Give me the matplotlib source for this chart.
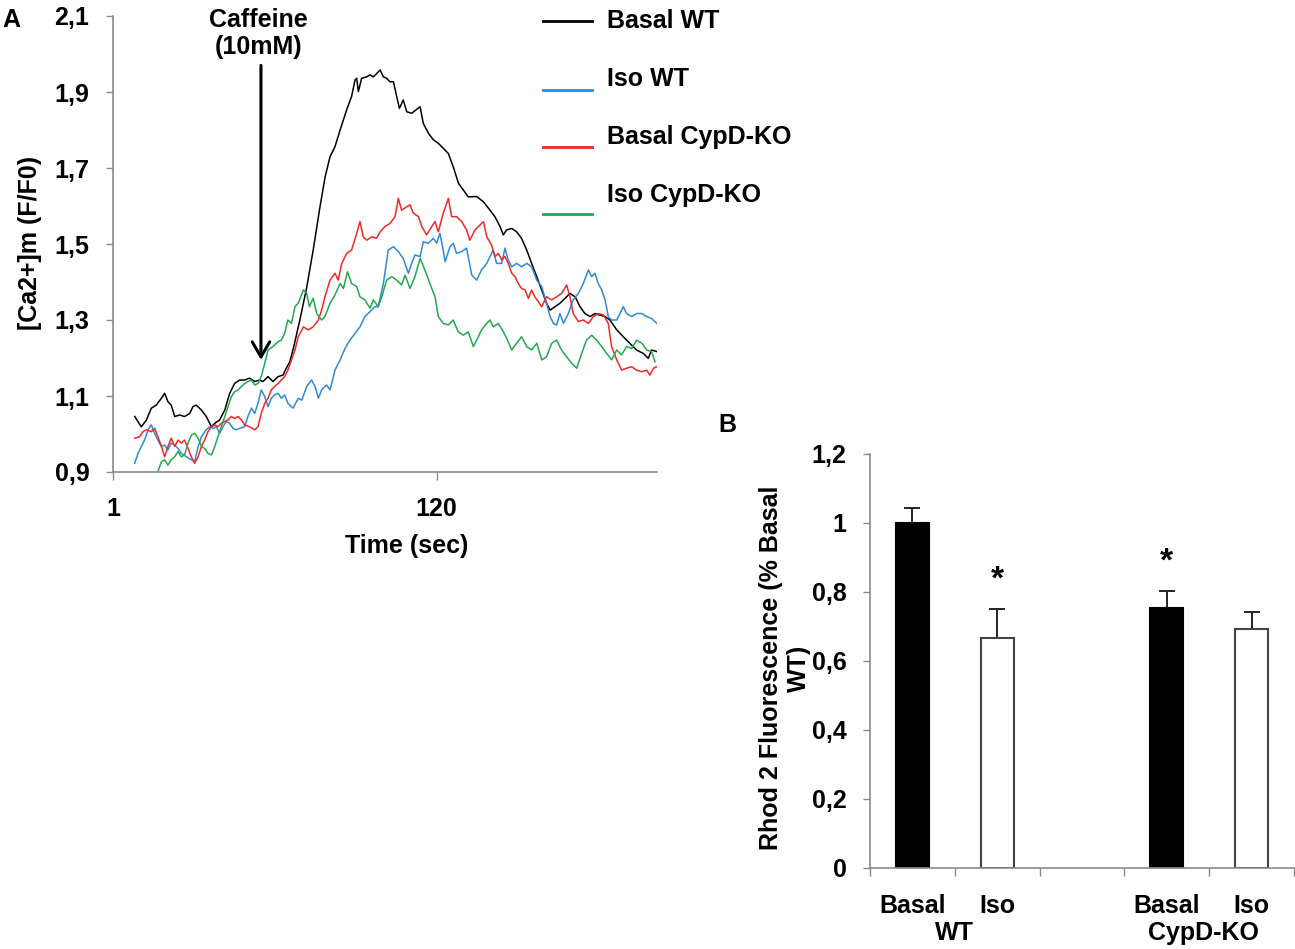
import matplotlib
matplotlib.use("Agg")
import matplotlib.pyplot as plt
import numpy as np
from matplotlib.lines import Line2D

plt.rcParams['font.family'] = ['Liberation Sans', 'DejaVu Sans']
plt.rcParams['font.weight'] = 'bold'
plt.rcParams['axes.labelweight'] = 'bold'
plt.rcParams['font.size'] = 18

# ---- panel A: mitochondrial Ca2+ traces (time in sec, F/F0) ----
basal_wt_t = [9.0, 11.4, 13.3, 15.1, 16.9, 18.8, 20.0, 21.2, 22.4, 23.7,
              25.5, 27.3, 29.2, 30.4, 31.6, 33.5, 35.3, 37.2, 38.4, 40.2,
              42.1, 43.9, 45.7, 47.6, 49.4, 51.2, 53.1, 54.9, 56.1, 58.0,
              59.8, 61.7, 63.5, 64.7, 66.0,
              67.3, 69.7, 72.2, 74.6, 77.1, 79.0, 80.8, 82.6, 84.5, 86.9,
              88.7, 90.0, 90.6, 91.2, 92.4, 94.3, 95.5, 96.7, 98.0, 99.2,
              100.4, 101.6, 102.8, 104.1, 105.3, 106.3, 107.7, 109.0, 110.8, 112.4,
              113.9, 115.1, 117.0, 118.8, 120.6, 122.4, 124.3, 126.1, 128.0, 129.8,
              131.6,
              134.7, 137.2, 139.6, 141.4, 143.3, 144.5, 145.7, 147.6, 149.4, 151.2,
              153.1, 154.9, 156.8, 158.6, 160.4, 161.7, 163.5, 165.3, 167.2, 169.0,
              170.9, 172.7, 174.5, 176.4, 178.2, 180.0, 181.9, 183.7, 186.2, 188.6,
              191.1, 193.5, 196.0, 197.8, 199.0, 200.9]
basal_wt = [1.046, 1.019, 1.037, 1.068, 1.076, 1.094, 1.107, 1.085, 1.076, 1.046,
            1.050, 1.046, 1.054, 1.072, 1.076, 1.063, 1.046, 1.019, 1.028, 1.037,
            1.063, 1.107, 1.133, 1.142, 1.142, 1.147, 1.138, 1.142, 1.138, 1.151,
            1.138, 1.151, 1.155, 1.173, 1.190,
            1.225, 1.300, 1.385, 1.484, 1.598, 1.677, 1.730, 1.756, 1.800, 1.853,
            1.888, 1.932, 1.936, 1.901, 1.936, 1.940, 1.945, 1.940, 1.949, 1.958,
            1.940, 1.936, 1.927, 1.927, 1.888, 1.857, 1.879, 1.848, 1.844, 1.853,
            1.861, 1.817, 1.791, 1.774, 1.765, 1.752, 1.738, 1.703, 1.660, 1.642,
            1.624,
            1.625, 1.611, 1.589, 1.572, 1.546, 1.524, 1.537, 1.541, 1.532, 1.515,
            1.484, 1.449, 1.414, 1.379, 1.344, 1.326, 1.335, 1.344, 1.357, 1.370,
            1.361, 1.335, 1.317, 1.309, 1.317, 1.313, 1.309, 1.300, 1.274, 1.256,
            1.238, 1.221, 1.212, 1.199, 1.221, 1.217]

iso_wt_t = [9.0, 10.2, 11.4, 12.6, 13.9, 15.1, 16.3, 17.5, 18.8, 20.0,
            21.2, 22.4, 23.7, 24.9, 26.1, 28.0, 29.8, 31.0, 32.3, 33.5,
            35.3, 36.5, 37.8, 39.0, 40.2, 41.4, 42.7, 43.9, 45.1, 46.3,
            47.6, 49.4, 50.6, 51.9, 53.1, 54.3, 55.5, 56.8, 58.0, 59.2,
            60.4, 61.7, 62.9, 64.1, 65.3,
            67.2, 69.1, 70.4, 72.2, 74.0, 75.3, 76.5, 77.7, 79.5, 80.8,
            82.6, 84.5, 86.3, 88.1, 90.0, 91.8, 93.6, 95.5, 97.3, 98.5,
            100.4, 102.2, 104.1, 105.9, 107.7, 109.6, 110.8, 112.0, 113.9, 115.1,
            116.9, 118.8, 120.0, 121.2, 122.4, 123.1, 124.9, 126.1, 127.3, 129.2,
            131.0, 132.9,
            134.7, 136.5, 138.4, 139.6, 140.8, 142.0, 143.9, 145.1, 146.3, 147.6,
            149.4, 151.2, 153.1, 154.9, 156.8, 158.6, 160.4, 161.7, 162.9, 164.1,
            165.3, 166.6, 168.4, 170.2, 172.1, 173.9, 175.8, 177.0, 178.2, 179.4,
            180.7, 181.9, 183.1, 184.3, 186.2, 187.4, 188.6, 189.8, 191.7, 193.5,
            195.4, 197.2, 199.0, 200.9]
iso_wt = [0.923, 0.949, 0.967, 0.984, 1.011, 1.024, 1.002, 0.984, 0.967, 0.971,
          0.958, 0.976, 0.971, 0.962, 0.949, 0.940, 0.932, 0.927, 0.967, 0.993,
          1.011, 1.019, 1.015, 1.019, 1.002, 1.019, 1.033, 1.028, 1.015, 1.011,
          1.015, 1.019, 1.046, 1.068, 1.054, 1.081, 1.116, 1.098, 1.072, 1.094,
          1.103, 1.107, 1.094, 1.103, 1.081,
          1.068, 1.094, 1.089, 1.125, 1.142, 1.125, 1.094, 1.116, 1.129, 1.116,
          1.168, 1.195, 1.225, 1.247, 1.265, 1.282, 1.309, 1.322, 1.335, 1.335,
          1.396, 1.484, 1.493, 1.480, 1.462, 1.423, 1.449, 1.471, 1.467, 1.506,
          1.502, 1.515, 1.502, 1.528, 1.484, 1.453, 1.493, 1.502, 1.475, 1.480,
          1.489, 1.418,
          1.405, 1.432, 1.449, 1.467, 1.484, 1.449, 1.449, 1.489, 1.458, 1.440,
          1.449, 1.440, 1.449, 1.440, 1.405, 1.388, 1.344, 1.309, 1.291, 1.287,
          1.317, 1.291, 1.317, 1.353, 1.370, 1.396, 1.432, 1.414, 1.423, 1.396,
          1.379, 1.353, 1.309, 1.300, 1.300, 1.317, 1.335, 1.317, 1.309, 1.317,
          1.317, 1.309, 1.304, 1.291]

basal_ko_t = [9.0, 10.8, 12.0, 13.3, 15.1, 16.3, 17.5, 18.8, 20.0, 21.2,
              22.4, 23.7, 24.9, 26.1, 27.3, 28.6, 29.8, 31.0, 32.3, 33.5,
              34.7, 35.9, 37.2, 38.4, 39.6, 40.8, 42.1, 43.3, 44.5, 45.7,
              47.0, 48.2, 49.4, 51.2, 53.1, 54.3, 55.5, 56.8, 58.0, 59.2,
              60.4, 61.7, 62.9, 64.1, 65.3,
              67.9, 69.1, 71.0, 72.8, 74.6, 76.5, 77.7, 78.9, 80.8, 82.6,
              83.8, 85.1, 86.9, 88.7, 90.6, 91.8, 93.0, 94.3, 96.1, 97.9,
              99.2, 101.0, 102.8, 104.7, 105.9, 107.1, 109.0, 110.2, 111.4, 113.3,
              114.5, 116.3, 118.2, 119.4, 120.6, 122.4, 124.3, 125.5, 127.3, 129.2,
              131.0, 132.2,
              134.1, 135.9, 137.2, 138.4, 140.2, 141.4, 142.7, 143.9, 145.1, 146.3,
              147.6, 148.8, 150.0, 151.2, 152.5, 153.7, 154.9, 156.1, 157.4, 158.6,
              160.4, 162.3, 164.1, 165.9, 167.8, 169.0, 170.2, 172.1, 173.9, 175.8,
              177.6, 179.4, 181.3, 183.1, 184.3, 186.2, 188.0, 189.8, 191.7, 193.5,
              195.4, 197.2, 198.4, 199.7, 200.9]
basal_ko = [0.989, 0.993, 1.006, 1.011, 1.006, 1.015, 0.993, 0.967, 0.940, 0.967,
            0.989, 0.967, 0.984, 0.976, 0.984, 0.962, 0.940, 0.923, 0.940, 0.967,
            0.984, 1.006, 1.019, 1.024, 1.019, 1.028, 1.033, 1.037, 1.046, 1.041,
            1.046, 1.037, 1.024, 1.019, 1.011, 1.019, 1.054, 1.081, 1.094, 1.116,
            1.125, 1.133, 1.142, 1.151, 1.168,
            1.221, 1.256, 1.282, 1.274, 1.282, 1.300, 1.326, 1.361, 1.405, 1.423,
            1.405, 1.449, 1.475, 1.484, 1.528, 1.559, 1.519, 1.510, 1.519, 1.515,
            1.532, 1.546, 1.554, 1.572, 1.620, 1.589, 1.598, 1.603, 1.581, 1.572,
            1.546, 1.524, 1.546, 1.559, 1.532, 1.581, 1.620, 1.572, 1.572, 1.559,
            1.537, 1.510,
            1.537, 1.550, 1.559, 1.519, 1.497, 1.467, 1.475, 1.458, 1.467, 1.449,
            1.423, 1.414, 1.396, 1.383, 1.379, 1.357, 1.379, 1.361, 1.348, 1.335,
            1.361, 1.353, 1.361, 1.370, 1.392, 1.361, 1.317, 1.296, 1.300, 1.291,
            1.309, 1.317, 1.313, 1.291, 1.230, 1.195, 1.168, 1.173, 1.177, 1.168,
            1.164, 1.168, 1.155, 1.173, 1.177]

iso_ko_t = [17.5, 18.8, 20.0, 21.2, 22.4, 23.7, 24.9, 26.1, 27.3, 28.6,
            29.8, 31.0, 32.3, 33.5, 34.7, 35.9, 37.2, 38.4, 39.6, 40.8,
            42.1, 43.3, 44.5, 45.7, 47.0, 48.2, 49.4, 50.6, 51.9, 53.1,
            54.3, 55.5, 56.8, 58.0, 59.8, 61.7, 62.9, 64.1, 65.3,
            66.6, 67.9, 69.1, 71.0, 72.2, 73.2, 74.6, 75.9, 77.7, 78.9,
            80.8, 82.6, 84.5, 85.7, 87.2, 88.7, 90.6, 91.8, 93.6, 95.5,
            96.7, 98.5, 99.8, 101.6, 103.5, 105.3, 107.1, 108.4, 110.2, 112.0,
            113.9, 115.7, 117.5, 119.4, 120.6, 122.4, 124.3, 126.1, 127.9, 129.8,
            131.6,
            133.5, 134.7, 136.5, 138.4, 139.6, 140.8, 142.7, 144.5, 145.7, 147.6,
            149.4, 151.2, 153.1, 154.9, 156.8, 158.6, 160.4, 162.3, 164.1, 165.9,
            167.8, 169.6, 171.5, 173.3, 175.1, 177.0, 178.8, 180.7, 182.5, 184.3,
            186.2, 188.0, 189.8, 191.7, 193.5, 195.4, 197.2, 199.0, 200.3]
iso_ko = [0.901, 0.927, 0.932, 0.918, 0.932, 0.940, 0.954, 0.940, 0.945, 0.976,
          0.997, 1.002, 0.989, 0.967, 0.962, 0.949, 0.945, 0.967, 0.993, 1.019,
          1.046, 1.072, 1.098, 1.111, 1.116, 1.125, 1.133, 1.138, 1.142, 1.129,
          1.133, 1.151, 1.186, 1.221, 1.230, 1.243, 1.247, 1.265, 1.300,
          1.291, 1.335, 1.344, 1.379, 1.370, 1.335, 1.357, 1.317, 1.300, 1.309,
          1.344, 1.366, 1.396, 1.383, 1.427, 1.396, 1.388, 1.361, 1.353, 1.331,
          1.353, 1.335, 1.361, 1.405, 1.414, 1.405, 1.392, 1.418, 1.383, 1.414,
          1.462, 1.431, 1.396, 1.361, 1.309, 1.291, 1.287, 1.300, 1.269, 1.260,
          1.269,
          1.230, 1.247, 1.274, 1.291, 1.300, 1.282, 1.291, 1.269, 1.252, 1.221,
          1.239, 1.256, 1.230, 1.221, 1.239, 1.195, 1.203, 1.239, 1.247, 1.221,
          1.203, 1.186, 1.173, 1.212, 1.247, 1.260, 1.247, 1.230, 1.212, 1.195,
          1.221, 1.208, 1.230, 1.225, 1.247, 1.239, 1.221, 1.217, 1.190]

trace_names = ["Basal WT", "Iso WT", "Basal CypD-KO", "Iso CypD-KO"]
trace_colors = ["#000000", "#2f8bd6", "#ee2a24", "#25a74f"]
caffeine_t = 55.4

# ---- panel B: Rhod 2 fluorescence ----
bar_labels = ["Basal", "Iso", "", "Basal", "Iso"]
bar_values = [1.0, 0.666, 0.0, 0.753, 0.691]
bar_errors = [0.043, 0.083, 0.0, 0.048, 0.051]
bar_colors = ["black", "white", "white", "black", "white"]
group_labels = ["WT", "CypD-KO"]
significant = [False, True, False, True, False]

W, H = 1295, 949
fig = plt.figure(figsize=(W / 100, H / 100), dpi=100)
grey = "#8a8a8a"

# ---------- A ----------
axA = fig.add_axes([113 / W, 1 - 472 / H, 544 / W, 456 / H])
series = [(basal_wt_t, basal_wt), (iso_wt_t, iso_wt),
          (basal_ko_t, basal_ko), (iso_ko_t, iso_ko)]
for (t, v), c in zip(series, trace_colors):
    axA.plot(t, v, color=c, lw=1.1)

axA.set_xlim(1, 201)
axA.set_ylim(0.9, 2.1)
yt = np.arange(0.9, 2.11, 0.2)
axA.set_yticks(yt)
axA.set_yticklabels([("%.1f" % y).replace(".", ",") for y in yt])
axA.set_xticks([1, 120])
axA.set_xticklabels(["1", "120"])
for s in ["top", "right"]:
    axA.spines[s].set_visible(False)
for s in ["left", "bottom"]:
    axA.spines[s].set_color(grey)
    axA.spines[s].set_linewidth(1.2)
axA.tick_params(axis="y", direction="out", length=5, width=1, color=grey, pad=12, labelsize=18)
axA.tick_params(axis="x", direction="out", length=6, width=1, color=grey, pad=12, labelsize=18)
axA.set_xlabel("Time (sec)", fontsize=18, fontweight="bold")
axA.xaxis.set_label_coords(0.54, -0.137)

fig.text(30 / W, 1 - 243 / H, "[Ca2+]m (F/F0)", rotation=90, ha="center", va="center", fontsize=18)
fig.text(11 / W, 1 - 20 / H, "A", ha="center", va="center", fontsize=18)

# caffeine arrow
axA.annotate("", xy=(caffeine_t, 1.195), xytext=(caffeine_t, 1.97),
             arrowprops=dict(arrowstyle="->,head_length=0.6,head_width=0.35",
                             lw=2.2, color="black", shrinkA=0, shrinkB=0),
             annotation_clip=False)
axA.text(caffeine_t - 1, 2.089, "Caffeine", ha="center", va="center", fontsize=18, clip_on=False)
axA.text(caffeine_t - 1, 2.018, "(10mM)", ha="center", va="center", fontsize=18, clip_on=False)

# legend drawn by hand
leg_line_y = [21, 90, 147, 214]
leg_text_y = [21, 79, 137, 195]
for name, c, ly, ty in zip(trace_names, trace_colors, leg_line_y, leg_text_y):
    fig.add_artist(Line2D([543 / W, 592 / W], [1 - ly / H, 1 - ly / H], color=c, lw=2.0))
    fig.text(607 / W, 1 - ty / H, name, ha="left", va="center", fontsize=18)

# ---------- B ----------
axB = fig.add_axes([870 / W, 1 - 867.5 / H, 424 / W, 414 / H])
pos = np.arange(len(bar_labels)) + 0.5
show = [lbl != "" for lbl in bar_labels]
edge = ["black" if c == "black" else "#444444" for c in bar_colors]
for p, v, c, e, sh in zip(pos, bar_values, bar_colors, edge, show):
    if sh:
        axB.bar(p, v, width=0.39, color=c, edgecolor=e, linewidth=1.5, zorder=2)
err_pos = [p for p, sh in zip(pos, show) if sh]
err_val = [v for v, sh in zip(bar_values, show) if sh]
err_up = [e for e, sh in zip(bar_errors, show) if sh]
axB.errorbar(err_pos, err_val, yerr=[np.zeros(len(err_up)), err_up], fmt="none",
             ecolor="#222222", elinewidth=1.4, capsize=6, capthick=1.4, zorder=1)
for p, v, e, sig in zip(pos, bar_values, bar_errors, significant):
    if sig:
        axB.text(p, v + e + 0.06, "*", ha="center", va="baseline", fontsize=24)

axB.set_xlim(0, 5)
axB.set_ylim(0, 1.2)
ytB = np.arange(0, 1.21, 0.2)
axB.set_yticks(ytB)
axB.set_yticklabels([("%.1f" % y).replace(".", ",").replace(",0", "") for y in ytB])
axB.set_xticks(np.arange(0, 6))
axB.set_xticklabels([])
axB.set_xticks(pos, minor=True)
axB.set_xticklabels(bar_labels, minor=True)
for s in ["top", "right"]:
    axB.spines[s].set_visible(False)
for s in ["left", "bottom"]:
    axB.spines[s].set_color(grey)
    axB.spines[s].set_linewidth(1.2)
axB.tick_params(axis="y", direction="out", length=5, width=1, color=grey, pad=12, labelsize=18)
axB.tick_params(axis="x", which="major", direction="out", length=6, width=1, color=grey)
axB.tick_params(axis="x", which="minor", length=0, pad=19, labelsize=18)
tr = axB.get_xaxis_transform()
axB.text(1.0, -0.158, group_labels[0], transform=tr, ha="center", va="center", fontsize=18)
axB.text(3.93, -0.158, group_labels[1], transform=tr, ha="center", va="center", fontsize=18)

fig.text(785 / W, 1 - 668 / H, "Rhod 2 Fluorescence (% Basal\nWT)", rotation=90,
         ha="center", va="center", multialignment="center", fontsize=18)
fig.text(727 / W, 1 - 425 / H, "B", ha="center", va="center", fontsize=18)

fig.savefig("out.png", dpi=100)
